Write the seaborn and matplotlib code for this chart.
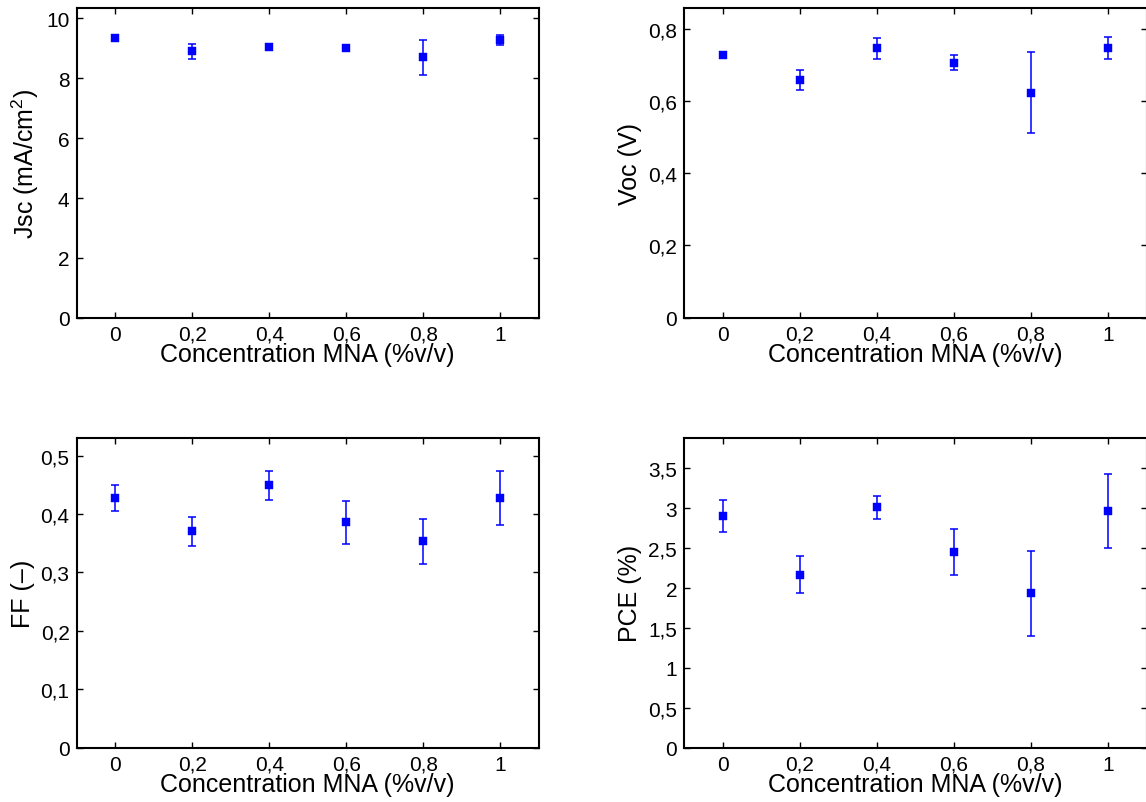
import matplotlib
matplotlib.use("Agg")
import matplotlib.pyplot as plt
import seaborn as sns
import numpy as np
import pandas as pd
from matplotlib.ticker import FuncFormatter

# ---- data ----
concentration = [0.0, 0.2, 0.4, 0.6, 0.8, 1.0]

jsc = [9.34, 8.90, 9.03, 9.01, 8.70, 9.27]
jsc_err = [0.05, 0.26, 0.06, 0.09, 0.58, 0.17]

voc = [0.727, 0.658, 0.745, 0.706, 0.623, 0.747]
voc_err = [0.008, 0.028, 0.028, 0.021, 0.112, 0.031]

ff = [0.427, 0.370, 0.449, 0.386, 0.353, 0.427]
ff_err = [0.022, 0.025, 0.025, 0.037, 0.039, 0.046]

pce = [2.907, 2.167, 3.012, 2.455, 1.933, 2.970]
pce_err = [0.200, 0.232, 0.147, 0.290, 0.537, 0.465]

x_ticks = [0, 0.2, 0.4, 0.6, 0.8, 1.0]
xlabel = "Concentration MNA (%v/v)"

panels = [
    dict(y=jsc, err=jsc_err, ylabel="Jsc (mA/cm$^2$)", ylim=(0, 10.35),
         yticks=[0, 2, 4, 6, 8, 10]),
    dict(y=voc, err=voc_err, ylabel="Voc (V)", ylim=(0, 0.857),
         yticks=[0, 0.2, 0.4, 0.6, 0.8]),
    dict(y=ff, err=ff_err, ylabel="FF (–)", ylim=(0, 0.53),
         yticks=[0, 0.1, 0.2, 0.3, 0.4, 0.5]),
    dict(y=pce, err=pce_err, ylabel="PCE (%)", ylim=(0, 3.88),
         yticks=[0, 0.5, 1, 1.5, 2, 2.5, 3, 3.5]),
]

# ---- style ----
sns.set_style("ticks")
plt.rcParams["font.family"] = ["Liberation Sans", "DejaVu Sans"]
plt.rcParams["mathtext.fontset"] = "custom"
plt.rcParams["mathtext.rm"] = "Liberation Sans"
plt.rcParams["mathtext.it"] = "Liberation Sans:italic"
plt.rcParams["text.color"] = "black"
plt.rcParams["axes.labelcolor"] = "black"
plt.rcParams["xtick.color"] = "black"
plt.rcParams["ytick.color"] = "black"

def comma_fmt(v, pos):
    s = f"{v:.10g}"
    return s.replace(".", ",")

fig = plt.figure(figsize=(11.46, 8.03), dpi=100)
W, H = 1146, 803
positions = [
    (76.5, 9.0),
    (684.0, 9.0),
    (76.5, 439.0),
    (684.0, 439.0),
]
aw, ah = 462.5, 309.7

blue = "#0000ff"
for (lx, ty), p in zip(positions, panels):
    ax = fig.add_axes([lx / W, 1 - (ty + ah) / H, aw / W, ah / H])
    df = pd.DataFrame({"x": concentration, "y": p["y"], "err": p["err"]})
    ax.errorbar(df["x"], df["y"], yerr=df["err"], fmt="none", ecolor=blue,
                elinewidth=1.1, capsize=2.8, capthick=1.1, zorder=2)
    sns.scatterplot(data=df, x="x", y="y", marker="s", s=36, color=blue,
                    edgecolor=blue, linewidth=0.3, ax=ax, zorder=3, legend=False)
    ax.set_xlim(-0.1, 1.1)
    ax.set_ylim(*p["ylim"])
    ax.set_xticks(x_ticks)
    ax.set_yticks(p["yticks"])
    ax.xaxis.set_major_formatter(FuncFormatter(comma_fmt))
    ax.yaxis.set_major_formatter(FuncFormatter(comma_fmt))
    ax.tick_params(direction="in", length=4, width=1.0, top=True, right=True,
                   labelsize=15)
    ax.tick_params(axis="x", pad=5)
    ax.tick_params(axis="y", pad=5)
    for sp in ax.spines.values():
        sp.set_visible(True)
        sp.set_linewidth(1.5)
        sp.set_color("black")
    ax.set_xlabel(xlabel, fontsize=18, labelpad=-1)
    ax.set_ylabel(p["ylabel"], fontsize=18, labelpad=4)

fig.savefig("out.png", dpi=100, facecolor="white")
